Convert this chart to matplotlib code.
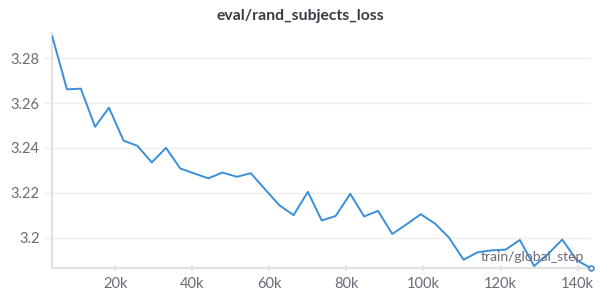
import matplotlib.pyplot as plt
from matplotlib.ticker import FixedLocator

# data
steps = [3.7, 7.5, 11.1, 14.8, 18.4, 22.2, 25.8, 29.5, 33.2, 36.9,
         40.5, 44.2, 47.8, 51.6, 55.2, 58.9, 62.6, 66.3, 70.0, 73.6,
         77.2, 81.0, 84.6, 88.2, 91.9, 95.7, 99.3, 103.0, 106.6, 110.4,
         114.0, 117.7, 121.3, 125.0, 128.7, 132.4, 136.0, 139.8, 143.4]
loss = [3.2897, 3.2661, 3.2664, 3.2494, 3.2579, 3.2432, 3.2409, 3.2335, 3.2400, 3.2308,
        3.2286, 3.2264, 3.2290, 3.2271, 3.2287, 3.2215, 3.2144, 3.2100, 3.2204, 3.2076,
        3.2096, 3.2195, 3.2094, 3.2119, 3.2016, 3.2060, 3.2104, 3.2062, 3.2000, 3.1901,
        3.1934, 3.1943, 3.1946, 3.1989, 3.1873, 3.1928, 3.1991, 3.1898, 3.1864]
x_ticks = [20, 40, 60, 80, 100, 120, 140]
x_labels = ['20k', '40k', '60k', '80k', '100k', '120k', '140k']
y_ticks = [3.2, 3.22, 3.24, 3.26, 3.28]
y_labels = ['3.2', '3.22', '3.24', '3.26', '3.28']

plt.rcParams['font.family'] = ['Lato', 'DejaVu Sans']

fig = plt.figure(figsize=(6.01, 2.96), dpi=100)
ax = fig.add_axes([0.087, 0.096, 0.896, 0.793])

line_color = '#3b8fd9'
ax.plot(steps, loss, color=line_color, linewidth=1.4, zorder=3)
ax.plot(steps[-1], loss[-1], 'o', color=line_color, markersize=3.5,
        markerfacecolor='white', markeredgewidth=1.2, zorder=4, clip_on=False)

ax.set_xlim(steps[0], steps[-1])
ax.set_ylim(3.1866, 3.2913)

ax.xaxis.set_major_locator(FixedLocator(x_ticks))
ax.set_xticklabels(x_labels)
ax.yaxis.set_major_locator(FixedLocator(y_ticks))
ax.set_yticklabels(y_labels)

ax.grid(axis='y', color='#eeeeee', linewidth=1)
ax.set_axisbelow(True)
for side in ['top', 'right']:
    ax.spines[side].set_visible(False)
for side in ['left', 'bottom']:
    ax.spines[side].set_color('#e2e2e2')
    ax.spines[side].set_linewidth(1.5)

ax.tick_params(axis='x', colors='#e2e2e2', labelcolor='#6b6b76', labelsize=10.5,
               length=5, width=1.2, direction='inout', pad=4)
ax.tick_params(axis='y', colors='#eeeeee', labelcolor='#6b6b76', labelsize=10.5,
               length=6, width=1, pad=3)

ax.text(0.987, 0.03, 'train/global_step', transform=ax.transAxes, ha='right',
        va='baseline', fontsize=10, color='#6b6b76')

fig.suptitle('eval/rand_subjects_loss', x=0.5, y=0.97, fontsize=11.3,
             fontweight='bold', color='#3a3a44')

fig.savefig('out.png', dpi=100)
